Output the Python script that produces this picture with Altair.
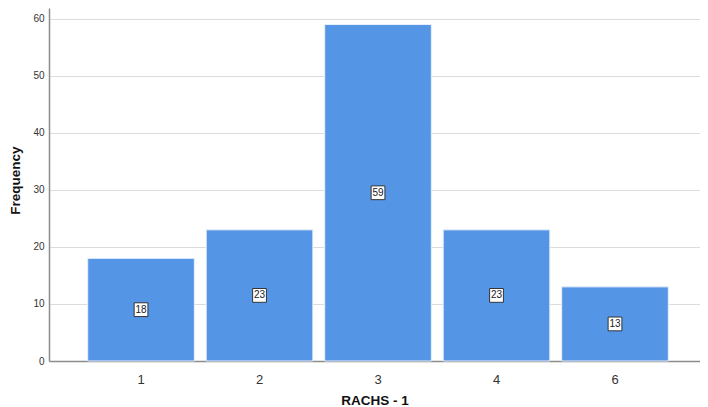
import altair as alt
import pandas as pd

categories = ["1", "2", "3", "4", "6"]
frequencies = [18, 23, 59, 23, 13]

df = pd.DataFrame({"cat": categories, "freq": frequencies})
df["mid"] = df["freq"] / 2

FONT = "Liberation Sans"

x_enc = alt.X(
    "cat:N",
    sort=categories,
    title="RACHS - 1",
    scale=alt.Scale(paddingInner=0.1, paddingOuter=0.297, align=0.55),
    axis=alt.Axis(
        labelAngle=0, labelFontSize=13, labelColor="#333333", labelFont=FONT,
        labelPadding=12, ticks=False, domainColor="#8c8c8c", domainWidth=1.5,
        titleFont=FONT, titleFontSize=13.5, titleFontWeight="bold", titleColor="#111111",
        titlePadding=7,
    ),
)

y_scale = alt.Scale(domain=[0, 61.9], nice=False)

bars = alt.Chart(df).mark_bar(color="#5595E5", stroke="#e8f0fb", strokeWidth=1).encode(
    x=x_enc,
    y=alt.Y(
        "freq:Q",
        title="Frequency",
        scale=y_scale,
        axis=alt.Axis(
            values=[0, 10, 20, 30, 40, 50, 60], labelFontSize=10, labelColor="#333333",
            labelFont=FONT, ticks=False, labelPadding=5, gridColor="#dcdcdc",
            domainColor="#8c8c8c", domainWidth=1.5,
            titleFont=FONT, titleFontSize=13.5, titleFontWeight="bold", titleColor="#111111",
            titlePadding=10, titleY=172,
        ),
    ),
)

boxes = alt.Chart(df).mark_point(
    shape="square", size=190, filled=True, fill="white", stroke="#333333", strokeWidth=1, opacity=1
).encode(
    x=alt.X("cat:N", sort=categories),
    y=alt.Y("mid:Q", scale=y_scale),
)

labels = alt.Chart(df).mark_text(font=FONT, fontSize=10, color="#222222", baseline="middle").encode(
    x=alt.X("cat:N", sort=categories),
    y=alt.Y("mid:Q", scale=y_scale),
    text="freq:Q",
)

chart = (
    alt.layer(bars, boxes, labels)
    .properties(
        width=651,
        height=353,
        autosize=alt.AutoSizeParams(type="none"),
        padding={"left": 41, "top": 0, "right": 0, "bottom": 46},
    )
    .configure_view(stroke=None)
    .configure_axis(grid=True)
    .configure_axisX(grid=False)
)

chart.save("out.html", embed_options={"renderer": "svg", "actions": False})
